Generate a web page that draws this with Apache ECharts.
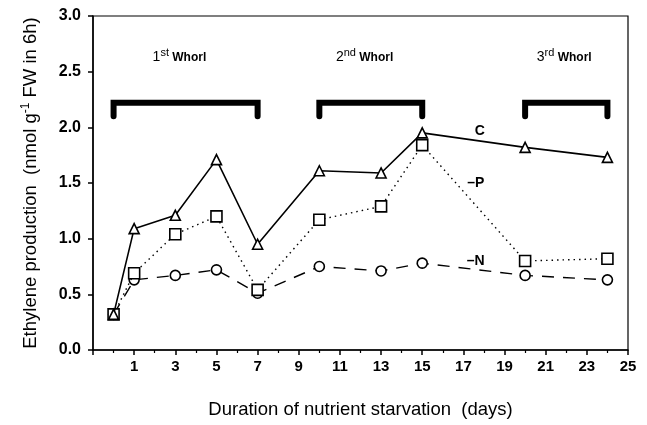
<!DOCTYPE html>
<html>
<head>
<meta charset="utf-8">
<script src="https://cdn.jsdelivr.net/npm/echarts@6/dist/echarts.min.js"></script>
<style>
  html, body { margin: 0; padding: 0; background: #fff; }
  #chart { width: 647px; height: 425px; }
</style>
</head>
<body>
<div id="chart"></div>
<script>
// days of nutrient starvation
var days = [0, 1, 3, 5, 7, 10, 13, 15, 20, 24]
// ethylene production, nmol g-1 FW in 6h
var valC = [0.32, 1.09, 1.21, 1.71, 0.95, 1.61, 1.59, 1.95, 1.82, 1.73]
var valP = [0.32, 0.69, 1.04, 1.20, 0.54, 1.17, 1.29, 1.84, 0.80, 0.82]
var valN = [0.32, 0.63, 0.67, 0.72, 0.51, 0.75, 0.71, 0.78, 0.67, 0.63]
// whorl periods
var whorlStart = [0, 10, 20]
var whorlEnd = [7, 15, 24]
var whorlNum = ['1', '2', '3']
var whorlSup = ['st', 'nd', 'rd']
// series tags placed next to the lines
var tagText = ['C', '\u2013P', '\u2013N']
var tagX = [17.8, 17.6, 17.6]
var tagY = [1.97, 1.50, 0.80]

var font = '"Liberation Sans", Arial, Helvetica, sans-serif'

function pairs(xs, ys) {
  return xs.map(function (x, i) { return [x, ys[i]] })
}

var chart = echarts.init(document.getElementById('chart'))

var markerStyle = {
  color: '#fff',
  borderColor: '#000',
  borderWidth: 1.6
}

var option = {
  animation: false,
  grid: {
    left: 93,
    right: 19,
    top: 16,
    bottom: 75,
    show: true,
    borderColor: '#000',
    borderWidth: 1.2
  },
  xAxis: {
    type: 'value',
    min: -1,
    max: 25,
    interval: 2,
    name: 'Duration of nutrient starvation  (days)',
    nameLocation: 'middle',
    nameGap: 50,
    nameTextStyle: { fontFamily: font, fontSize: 18.5, color: '#000' },
    axisLine: { onZero: false, lineStyle: { color: '#000', width: 1.5 } },
    axisTick: { length: 5, lineStyle: { color: '#000', width: 1.5 } },
    minorTick: { show: true, splitNumber: 2, length: 3, lineStyle: { color: '#000', width: 1.2 } },
    splitLine: { show: false },
    axisLabel: {
      color: '#000',
      fontFamily: font,
      fontSize: 15,
      fontWeight: 'bold',
      margin: 9,
      formatter: function (v) { return v < 0 ? '' : String(v) }
    }
  },
  yAxis: {
    type: 'value',
    min: 0,
    max: 3,
    interval: 0.5,
    name: '{t|Ethylene production  (nmol g}{s|-1}{t| FW in 6h)}',
    nameLocation: 'middle',
    nameGap: 52,
    nameTextStyle: {
      color: '#000',
      rich: {
        t: { fontFamily: font, fontSize: 18.5, color: '#000' },
        s: { fontFamily: font, fontSize: 12, color: '#000', padding: [0, 0, 9, 0] }
      }
    },
    axisLine: { show: true, onZero: false, lineStyle: { color: '#000', width: 1.5 } },
    axisTick: { show: true, length: 5, lineStyle: { color: '#000', width: 1.5 } },
    splitLine: { show: false },
    axisLabel: {
      color: '#000',
      fontFamily: font,
      fontSize: 16,
      fontWeight: 'bold',
      margin: 12,
      formatter: function (v) { return v.toFixed(1) }
    }
  },
  series: [
    {
      name: 'N',
      type: 'line',
      data: pairs(days, valN),
      symbol: 'circle',
      symbolSize: 10,
      lineStyle: { color: '#000', width: 1.4, type: [12, 9] },
      itemStyle: markerStyle,
      z: 3
    },
    {
      name: 'P',
      type: 'line',
      data: pairs(days, valP),
      symbol: 'rect',
      symbolSize: 11,
      lineStyle: { color: '#000', width: 1.4, type: [1.5, 4] },
      itemStyle: markerStyle,
      z: 4
    },
    {
      name: 'C',
      type: 'line',
      data: pairs(days, valC),
      symbol: 'triangle',
      symbolSize: 10,
      lineStyle: { color: '#000', width: 1.6 },
      itemStyle: markerStyle,
      z: 5
    },
    {
      // whorl brackets and their labels
      type: 'custom',
      data: whorlStart.map(function (s, i) { return [s, whorlEnd[i], i] }),
      renderItem: function (params, api) {
        var s = api.value(0)
        var e = api.value(1)
        var i = api.value(2)
        var a = api.coord([s, 2.1])
        var b = api.coord([s, 2.22])
        var c = api.coord([e, 2.22])
        var d = api.coord([e, 2.1])
        var t = api.coord([(s + e) / 2 - (i === 2 ? 0.1 : 0.3), 2.63])
        return {
          type: 'group',
          children: [
            {
              type: 'polyline',
              shape: { points: [a, b, c, d] },
              style: { stroke: '#000', lineWidth: 6, fill: null, lineJoin: 'miter', lineCap: 'round' }
            },
            {
              type: 'text',
              x: t[0],
              y: t[1],
              style: {
                text: '{n|' + whorlNum[i] + '}{s|' + whorlSup[i] + '}{w| Whorl}',
                align: 'center',
                verticalAlign: 'middle',
                rich: {
                  n: { fontFamily: font, fontSize: 14, fill: '#000' },
                  s: { fontFamily: font, fontSize: 11, fill: '#000', padding: [0, 0, 8, 0] },
                  w: { fontFamily: font, fontSize: 12, fontWeight: 'bold', fill: '#000' }
                }
              }
            }
          ]
        }
      },
      z: 2
    },
    {
      // series tags
      type: 'custom',
      data: tagX.map(function (x, i) { return [x, tagY[i], i] }),
      renderItem: function (params, api) {
        var p = api.coord([api.value(0), api.value(1)])
        return {
          type: 'text',
          x: p[0],
          y: p[1],
          style: {
            text: tagText[api.value(2)],
            align: 'center',
            verticalAlign: 'middle',
            font: 'bold 14px ' + font,
            fill: '#000'
          }
        }
      },
      z: 6
    }
  ]
}

chart.setOption(option)
</script>
</body>
</html>
